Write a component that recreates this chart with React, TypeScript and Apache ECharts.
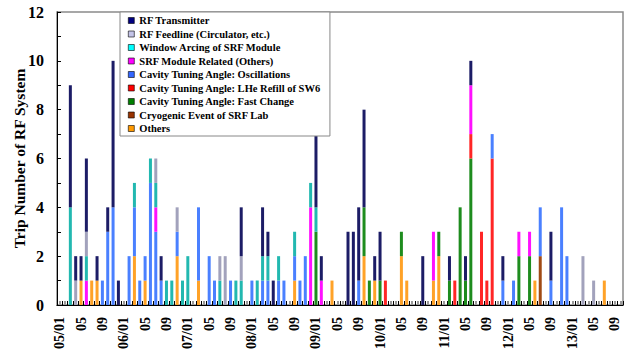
import React, { useEffect, useRef } from "react";
import * as echarts from "echarts";

// Months from 2005/01 to 2013/10 (YY/MM)
const months: string[] = [];
for (let y = 5; y <= 13; y++) {
  for (let m = 1; m <= 12; m++) {
    if (y === 13 && m > 10) break;
    months.push(`${String(y).padStart(2, "0")}/${String(m).padStart(2, "0")}`);
  }
}

const seriesNames = [
  "RF Transmitter",
  "RF Feedline (Circulator, etc.)",
  "Window Arcing of SRF Module",
  "SRF Module Related (Others)",
  "Cavity Tuning Angle: Oscillations",
  "Cavity Tuning Angle: LHe Refill of SW6",
  "Cavity Tuning Angle: Fast Change",
  "Cryogenic Event of SRF Lab",
  "Others",
];

// Trip counts per month, [month, trips]
const rfTransmitter: [string, number][] = [
  ["05/03", 5], ["05/04", 1], ["05/05", 1], ["05/06", 3], ["05/08", 1], ["05/10", 1],
  ["05/11", 6], ["05/12", 1], ["06/08", 1], ["07/11", 2], ["08/03", 2], ["08/04", 1],
  ["08/05", 1], ["09/01", 3], ["09/02", 1], ["09/07", 3], ["09/08", 3], ["09/09", 3],
  ["09/10", 4], ["09/12", 1], ["10/01", 2], ["10/09", 2], ["11/02", 1], ["11/05", 1],
  ["11/06", 1], ["11/12", 1], ["12/09", 2],
];
const rfFeedline: [string, number][] = [
  ["05/04", 1], ["05/06", 1], ["06/07", 1], ["06/11", 1], ["07/07", 1], ["07/08", 2],
  ["07/11", 1], ["13/03", 2], ["13/05", 1],
];
const windowArcing: [string, number][] = [
  ["05/03", 4], ["05/06", 1], ["06/03", 1], ["06/06", 1], ["06/07", 1], ["06/09", 1],
  ["06/10", 1], ["06/12", 1], ["07/01", 2], ["07/07", 1], ["07/10", 1], ["07/11", 1],
  ["08/02", 1], ["08/03", 1], ["08/04", 1], ["08/06", 1], ["08/09", 1], ["08/12", 1],
  ["09/01", 1],
];
const srfModuleOthers: [string, number][] = [
  ["05/06", 1], ["06/07", 1], ["08/12", 4], ["09/02", 1], ["10/11", 2], ["11/06", 2],
  ["12/03", 1], ["12/05", 1],
];
const oscillations: [string, number][] = [
  ["05/09", 1], ["05/10", 3], ["05/11", 4], ["06/02", 2], ["06/03", 2], ["06/04", 1],
  ["06/05", 1], ["06/06", 5], ["06/07", 3], ["06/08", 1], ["06/11", 1], ["07/03", 3],
  ["07/05", 2], ["07/06", 1], ["07/09", 1], ["08/01", 1], ["08/03", 1], ["08/04", 1],
  ["08/06", 1], ["08/07", 1], ["08/09", 1], ["08/10", 1], ["08/11", 2], ["09/09", 1],
  ["11/10", 1], ["11/12", 1], ["12/02", 1], ["12/07", 2], ["12/09", 1], ["12/11", 4],
  ["12/12", 2],
];
const lheRefill: [string, number][] = [
  ["10/02", 1], ["11/03", 1], ["11/06", 1], ["11/08", 3], ["11/09", 1], ["11/10", 6],
];
const fastChange: [string, number][] = [
  ["09/01", 3], ["09/10", 2], ["09/11", 1], ["10/01", 1], ["10/05", 1], ["10/12", 1],
  ["11/02", 1], ["11/04", 4], ["11/05", 1], ["11/06", 6], ["12/03", 2], ["12/05", 2],
];
const cryogenic: [string, number][] = [["12/07", 2]];
const others: [string, number][] = [
  ["05/05", 1], ["05/07", 1], ["05/08", 1], ["06/03", 2], ["06/05", 1], ["06/11", 2],
  ["07/03", 1], ["08/09", 1], ["09/04", 1], ["09/10", 2], ["09/12", 1], ["10/05", 2],
  ["10/06", 1], ["10/11", 1], ["10/12", 2], ["12/06", 1], ["13/07", 1],
];

const seriesData = [
  rfTransmitter, rfFeedline, windowArcing, srfModuleOthers, oscillations,
  lheRefill, fastChange, cryogenic, others,
];
const barColors = [
  "#1c1c66", "#a2a2bc", "#22b8b0", "#ff10ff", "#4a80ff",
  "#ff2626", "#1e8c1e", "#a04a14", "#ffa228",
];
const swatchColors = [
  "#000080", "#c4c4e8", "#00ffff", "#ff00ff", "#3366ff",
  "#ff0000", "#008000", "#993300", "#ff9900",
];

const toMonthly = (pairs: [string, number][]) => {
  const arr = months.map(() => 0);
  pairs.forEach(([m, v]) => {
    const i = months.indexOf(m);
    if (i >= 0) arr[i] = v;
  });
  return arr;
};

const FONT = '"Liberation Serif", "Times New Roman", serif';

export default function App() {
  const ref = useRef<HTMLDivElement>(null);
  useEffect(() => {
    if (!ref.current) return;
    const chart = echarts.init(ref.current, undefined, { renderer: "svg" });
    // stack bottom-to-top is the reverse of the legend order
    const order = seriesNames.map((_, i) => seriesNames.length - 1 - i);
    chart.setOption({
      animation: false,
      backgroundColor: "#fff",
      grid: {
        left: 57,
        right: 1,
        top: 12,
        bottom: 50,
        containLabel: false,
        outerBoundsMode: "none",
        show: true,
        borderColor: "#8a8a8a",
        borderWidth: 1.5,
      },
      legend: {
        orient: "vertical",
        left: 120,
        top: 12,
        padding: [3, 9, 2, 8],
        itemGap: 2.5,
        itemWidth: 6,
        itemHeight: 6,
        icon: "rect",
        backgroundColor: "#fff",
        borderColor: "#888",
        borderWidth: 1,
        textStyle: {
          fontFamily: FONT,
          fontWeight: "bold",
          fontSize: 10.5,
          lineHeight: 10.5,
          color: "#000",
        },
        data: seriesNames.map((n, i) => ({
          name: n,
          itemStyle: { color: swatchColors[i], borderColor: "#000", borderWidth: 0.6 },
        })),
      },
      xAxis: [
        {
          type: "category",
          data: months,
          axisLine: { lineStyle: { color: "#000", width: 1 } },
          axisTick: {
            show: true,
            inside: true,
            length: 4,
            interval: 0,
            lineStyle: { color: "#000" },
          },
          axisLabel: {
            interval: 3,
            rotate: 90,
            margin: 12,
            fontFamily: FONT,
            fontWeight: "bold",
            fontSize: 14,
            color: "#000",
            formatter: (v: string) => (v.endsWith("/01") ? v : v.slice(3)),
          },
          splitLine: { show: false },
        },
        {
          type: "category",
          data: months,
          position: "bottom",
          axisLine: { show: false },
          axisLabel: { show: false },
          axisTick: {
            show: true,
            inside: true,
            alignWithLabel: true,
            length: 4,
            interval: 0,
            lineStyle: { color: "#9a9a9a", width: 2 },
          },
          splitLine: { show: false },
        },
      ],
      yAxis: {
        type: "value",
        min: 0,
        max: 12,
        interval: 1,
        name: "Trip Number of RF System",
        nameLocation: "middle",
        nameGap: 30,
        nameMoveOverlap: false,
        nameTextStyle: {
          fontFamily: FONT,
          fontWeight: "bold",
          fontSize: 15.5,
          color: "#000",
        },
        axisLine: { show: true, lineStyle: { color: "#000", width: 1 } },
        axisTick: { show: true, inside: true, length: 4, lineStyle: { color: "#000" } },
        axisLabel: {
          margin: 13,
          fontFamily: FONT,
          fontWeight: "bold",
          fontSize: 16,
          color: "#000",
          formatter: (v: number) => (v % 2 === 0 ? String(v) : ""),
        },
        splitLine: { show: false },
      },
      series: order.map((i) => ({
        name: seriesNames[i],
        type: "bar",
        stack: "trips",
        xAxisIndex: 0,
        barWidth: 3,
        itemStyle: { color: barColors[i] },
        data: toMonthly(seriesData[i]),
      })),
    });
    return () => chart.dispose();
  }, []);
  return (
    <div
      ref={ref}
      style={{ position: "fixed", left: 0, top: 0, width: 624, height: 355, background: "#fff" }}
    />
  );
}
